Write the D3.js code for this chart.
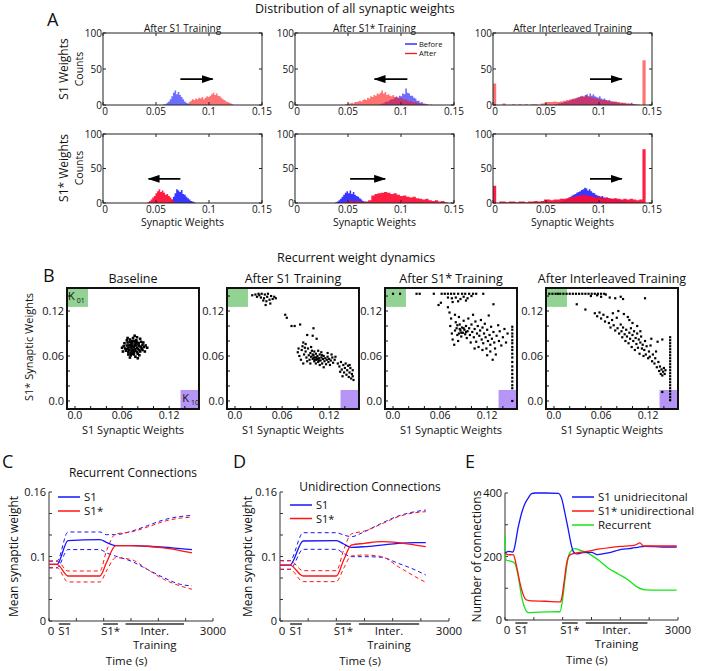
<!DOCTYPE html>
<html><head><meta charset="utf-8">
<script src="https://cdn.jsdelivr.net/npm/d3@7"></script>
<style>body{margin:0;background:#fff}svg{font-family:"Open Sans",sans-serif}</style>
</head><body><svg id="c" width="708" height="671"></svg>
<script>
// ================= DATA =================
// ---- Panel A: histogram counts (bin start, bin width, counts) ----
const BIN_FINE = 0.0015, BIN_COARSE = 0.003;
const aS1_S1_before = [1,1,3,5,8,12,17,20,15,18,14,11,8,5,3,2,1];
const aS1_S1_after = [4,6,8,7,9,8,10,9,11,8,10,12,11,13,15,17,14,16,13,12,10,8,7,5,4,3,2,1];
const aS1_S1s_before = [1,2,2,4,5,5,7,8,8,10,11,10,13,12,16,15,23,17,16,13,13,10,9,6,6,3,4,2,1,1];
const aS1_S1s_after = [1,1,2,2,3,2,4,4,5,6,5,7,8,7,10,9,12,11,14,13,16,15,17,20,16,18,14,15,13,12,14,11,12,10,9,10,8,7,8,6,5,6,4,3,4,3,2,2,1,1,2,1,1,0,1];
const aS1_Int_before = [1,1,2,2,3,3,4,5,5,6,7,8,8,9,10,11,12,13,11,14,15,12,16,13,15,12,11,10,12,9,8,9,7,6,7,5,5,4,4,3,3,2,3,2,2,1,2,1,3,1,1];
const aS1_Int_after = [30,0,0,2,0,0,1,0,1,0,1,0,1,1,0,2,3,4,4,5,4,5,6,7,8,9,10,11,12,13,11,10,9,8,7,7,6,5,5,4,3,3,2,2,1,1,0,62];
const aS1s_S1_before = [2,5,9,14,20,18,16,19,13,12,9,7,5,3,2,1];
const aS1s_S1_after = [1,3,5,8,10,14,17,20,16,18,15,12,13,10,8,5,2];
const aS1s_S1s_before = [1,2,4,6,9,12,15,17,14,18,13,16,12,10,9,7,5,3,2];
const aS1s_S1s_after = [1,2,3,2,3,2,1,2,4,11,13,14,15,16,15,13,14,12,10,11,9,8,9,7,6,5,6,4,3,4,2,3,1];
const aS1s_Int_before = [1,2,3,4,5,6,8,9,11,12,13,15,16,17,19,20,22,21,18,20,17,15,14,12,11,10,9,10,8,7,8,7,6,6,5,6,5,4,5,4,3,4,3,2,3,2,2,1,1];
const aS1s_Int_after = [25,0,2,2,1,2,2,1,2,2,1,2,2,3,2,3,5,5,4,5,5,6,6,7,8,9,10,11,12,11,10,9,8,9,7,8,7,6,7,6,5,6,5,6,5,4,5,78];
// arrows: [from weight, to weight, count level]
const arrowsA = [[0.073,0.1035,36],[0.106,0.075,36],[0.0915,0.1215,36],[0.073,0.043,35],[0.052,0.085,35],[0.0915,0.1215,35]];
const histTitles = ["After S1 Training","After S1* Training","After Interleaved Training"];
const histXTicks = [0,0.05,0.1,0.15];
const histYTicks = [0,50,100];

// ---- Panel B: scatter points [S1 weight, S1* weight] ----
const scatterTitles = ["Baseline","After S1 Training","After S1* Training","After Interleaved Training"];
const ptsBaseline = [[0.075,0.072],[0.072,0.070],[0.078,0.074],[0.070,0.075],[0.080,0.069],[0.074,0.066],[0.068,0.071],[0.077,0.078],[0.082,0.073],[0.071,0.064],
[0.066,0.074],[0.085,0.070],[0.079,0.065],[0.073,0.080],[0.069,0.068],[0.076,0.069],[0.081,0.077],[0.067,0.078],[0.083,0.066],[0.072,0.076],
[0.064,0.070],[0.086,0.075],[0.075,0.062],[0.070,0.082],[0.078,0.081],[0.088,0.072],[0.062,0.073],[0.074,0.084],[0.080,0.063],[0.068,0.065],
[0.084,0.079],[0.065,0.067],[0.077,0.059],[0.071,0.061],[0.086,0.068],[0.063,0.077],[0.090,0.074],[0.079,0.085],[0.066,0.081],[0.082,0.061],
[0.073,0.073],[0.076,0.075],[0.074,0.068],[0.079,0.071],[0.071,0.072],[0.077,0.067],[0.069,0.074],[0.081,0.075],[0.073,0.077],[0.075,0.065],
[0.060,0.071],[0.092,0.071],[0.087,0.078],[0.061,0.066],[0.089,0.066],[0.070,0.058],[0.083,0.083],[0.067,0.084],[0.076,0.087],[0.080,0.057],
[0.072,0.067],[0.078,0.077],[0.070,0.079],[0.084,0.072],[0.066,0.069],[0.075,0.080],[0.082,0.068],[0.073,0.063],[0.079,0.079],[0.068,0.062]];
const ptsAfterS1 = [[0.022,0.141],[0.026,0.142],[0.030,0.143],[0.034,0.143],[0.038,0.142],[0.042,0.143],[0.028,0.139],[0.033,0.138],[0.037,0.137],[0.041,0.139],
[0.046,0.140],[0.050,0.139],[0.036,0.134],[0.040,0.133],[0.044,0.135],[0.048,0.136],[0.039,0.128],[0.045,0.130],[0.052,0.137],[0.031,0.141],
[0.064,0.115],[0.066,0.111],[0.072,0.100],[0.076,0.100],[0.083,0.102],[0.100,0.097],[0.099,0.087],[0.092,0.088],[0.104,0.083],
[0.080,0.065],[0.082,0.060],[0.085,0.068],[0.086,0.073],[0.088,0.062],[0.090,0.066],[0.091,0.058],[0.093,0.070],[0.094,0.061],[0.095,0.055],
[0.096,0.064],[0.097,0.059],[0.098,0.067],[0.099,0.056],[0.100,0.061],[0.101,0.053],[0.102,0.058],[0.103,0.063],[0.104,0.055],[0.105,0.060],
[0.106,0.052],[0.107,0.057],[0.108,0.062],[0.109,0.054],[0.110,0.058],[0.111,0.050],[0.112,0.056],[0.113,0.060],[0.114,0.053],[0.115,0.057],
[0.116,0.049],[0.117,0.055],[0.118,0.059],[0.119,0.052],[0.120,0.056],[0.121,0.048],[0.122,0.054],[0.124,0.058],[0.125,0.051],[0.127,0.055],
[0.084,0.055],[0.087,0.050],[0.089,0.071],[0.092,0.053],[0.097,0.072],[0.101,0.066],[0.106,0.067],[0.108,0.048],[0.113,0.045],[0.118,0.064],
[0.123,0.062],[0.128,0.059],[0.103,0.050],[0.096,0.050],[0.110,0.065],[0.090,0.076],[0.087,0.078],[0.081,0.070],[0.099,0.062],[0.104,0.058],
[0.107,0.054],[0.102,0.055],[0.111,0.061],[0.100,0.058],[0.105,0.056],
[0.131,0.050],[0.133,0.046],[0.135,0.052],[0.136,0.042],[0.138,0.048],[0.139,0.038],[0.140,0.044],[0.141,0.050],[0.142,0.035],[0.143,0.041],
[0.144,0.047],[0.145,0.032],[0.146,0.038],[0.147,0.044],[0.148,0.030],[0.149,0.036],[0.150,0.041],[0.151,0.028],[0.137,0.033],[0.134,0.039],[0.146,0.048],[0.150,0.033]];
const ptsAfterS1s = [[0.000,0.143],[0.009,0.143],
[0.030,0.143],[0.034,0.143],[0.052,0.143],[0.062,0.143],[0.066,0.143],[0.070,0.143],[0.074,0.143],[0.078,0.143],[0.083,0.143],[0.088,0.143],[0.092,0.143],[0.097,0.143],[0.102,0.143],[0.106,0.143],[0.115,0.143],
[0.070,0.138],[0.075,0.137],[0.080,0.138],[0.086,0.136],[0.090,0.139],[0.095,0.137],[0.100,0.140],[0.076,0.132],[0.083,0.133],[0.093,0.134],
[0.058,0.128],[0.061,0.131],[0.128,0.129],[0.070,0.125],
[0.072,0.118],[0.074,0.110],[0.073,0.100],[0.075,0.090],[0.076,0.082],[0.078,0.075],[0.079,0.115],[0.080,0.105],[0.081,0.097],[0.082,0.088],
[0.083,0.080],[0.084,0.112],[0.085,0.102],[0.086,0.094],[0.087,0.086],[0.088,0.098],[0.089,0.091],[0.090,0.107],[0.091,0.095],[0.092,0.089],
[0.093,0.100],[0.094,0.084],[0.095,0.093],[0.096,0.110],[0.097,0.097],[0.098,0.088],[0.099,0.078],[0.100,0.102],[0.101,0.092],[0.102,0.115],
[0.103,0.085],[0.104,0.096],[0.105,0.106],[0.106,0.079],[0.107,0.090],[0.108,0.100],[0.109,0.072],[0.110,0.087],[0.111,0.094],[0.112,0.108],
[0.113,0.082],[0.114,0.098],[0.115,0.077],[0.116,0.090],[0.117,0.103],[0.118,0.085],[0.119,0.070],[0.120,0.095],[0.121,0.080],[0.122,0.114],
[0.123,0.088],[0.124,0.075],[0.125,0.099],[0.126,0.083],[0.128,0.092],[0.129,0.078],[0.130,0.070],[0.132,0.087],[0.134,0.101],[0.135,0.080],
[0.136,0.093],[0.138,0.074],[0.140,0.085],[0.142,0.096],[0.144,0.078],[0.146,0.090],
[0.085,0.096],[0.090,0.097],[0.087,0.091],[0.093,0.092],[0.084,0.090],[0.082,0.101],[0.079,0.094],
[0.120,0.061],[0.127,0.055],[0.131,0.062],[0.124,0.066],[0.114,0.068],[0.104,0.070],
[0.152,0.099],[0.152,0.095],[0.152,0.090],[0.152,0.086],[0.152,0.081],[0.152,0.077],[0.152,0.072],[0.152,0.068],[0.152,0.063],[0.152,0.058],
[0.152,0.052],[0.152,0.046],[0.152,0.041],[0.152,0.036],[0.152,0.031],[0.152,0.026],[0.152,0.021],[0.152,0.017],[0.152,0.000]];
const ptsAfterInt = [[-0.006,0.143],[-0.002,0.143],[0.002,0.143],[0.005,0.143],[0.008,0.143],[0.012,0.143],[0.016,0.143],[0.020,0.143],[0.024,0.143],[0.028,0.143],
[0.032,0.143],[0.036,0.143],[0.040,0.143],[0.044,0.143],[0.048,0.143],[0.052,0.143],[0.056,0.143],[0.060,0.143],[0.064,0.143],
[0.047,0.140],[0.055,0.141],[0.060,0.139],[0.066,0.142],[0.071,0.138],[0.078,0.137],[0.085,0.139],[0.088,0.136],[0.116,0.137],[0.029,0.129],[0.040,0.122],
[0.052,0.117],[0.055,0.113],[0.058,0.118],[0.060,0.110],[0.063,0.115],[0.065,0.106],[0.068,0.112],[0.070,0.104],[0.072,0.098],[0.074,0.108],
[0.076,0.101],[0.078,0.094],[0.080,0.111],[0.081,0.097],[0.083,0.090],[0.085,0.102],[0.086,0.093],[0.087,0.085],[0.088,0.098],[0.090,0.089],
[0.091,0.080],[0.092,0.095],[0.093,0.086],[0.094,0.112],[0.095,0.077],[0.096,0.091],[0.097,0.083],[0.098,0.097],[0.099,0.072],[0.100,0.088],
[0.101,0.080],[0.102,0.093],[0.103,0.068],[0.104,0.084],[0.105,0.076],[0.106,0.090],[0.107,0.071],[0.108,0.082],[0.109,0.063],[0.110,0.078],
[0.111,0.086],[0.112,0.070],[0.113,0.075],[0.114,0.060],[0.115,0.068],[0.116,0.080],[0.117,0.062],[0.118,0.073],[0.120,0.057],[0.121,0.066],
[0.122,0.059],[0.123,0.074],[0.125,0.053],[0.126,0.062],[0.128,0.050],[0.129,0.057],[0.130,0.066],[0.131,0.045],[0.133,0.052],[0.134,0.040],
[0.135,0.046],[0.136,0.036],[0.137,0.042],[0.138,0.034],[0.139,0.039],[0.140,0.044],[0.141,0.036],[0.142,0.041],[0.138,0.082],[0.132,0.079],
[0.124,0.083],[0.096,0.108],[0.089,0.116],[0.082,0.120],[0.075,0.117],[0.106,0.100],[0.100,0.104],[0.110,0.093],
[0.148,0.085],[0.148,0.081],[0.148,0.077],[0.148,0.073],[0.148,0.069],[0.148,0.065],[0.148,0.061],[0.148,0.057],[0.148,0.053],[0.148,0.049],
[0.148,0.045],[0.148,0.041],[0.148,0.037],[0.148,0.033],[0.148,0.029],[0.148,0.025],[0.148,0.021],[0.148,0.017],[0.148,0.013],[0.148,0.009],[0.148,0.005],[0.148,0.001],
[0.138,0.012]];
const scatterTicks = [0,0.02,0.04,0.06,0.08,0.10,0.12,0.14];
const scatterLabels = [[0,"0.0"],[0.06,"0.06"],[0.12,"0.12"]];

// ---- Panel C: recurrent connections, mean weight (solid) and +/- spread (dashed) ----
const tC = [0,146,348,933,1050,1220,1500,1800,2100,2400,2616];
const cS1 = [0.0702,0.0702,0.0997,0.1009,0.0976,0.0935,0.0935,0.0927,0.0915,0.0898,0.0886];
const cS1s = [0.0702,0.0702,0.0558,0.0558,0.0722,0.0935,0.0935,0.0927,0.0907,0.0874,0.0845];
const cS1Hi = [0.0743,0.0743,0.1104,0.1104,0.1071,0.1071,0.1112,0.1182,0.1255,0.1296,0.1309];
const cS1Lo = [0.0660,0.0660,0.0886,0.0886,0.0845,0.0804,0.0743,0.0640,0.0537,0.0455,0.0435];
const cS1sHi = [0.0743,0.0743,0.0620,0.0620,0.0866,0.1079,0.1104,0.1165,0.1235,0.1276,0.1288];
const cS1sLo = [0.0660,0.0660,0.0484,0.0484,0.0620,0.0784,0.0763,0.0640,0.0517,0.0435,0.0394];
// ---- Panel D: unidirectional connections ----
const tD = [0,176,412,1000,1130,1265,1500,1800,2100,2400,2588];
const dS1 = [0.0694,0.0694,0.0992,0.0996,0.0955,0.0914,0.0922,0.0942,0.0963,0.0971,0.0971];
const dS1s = [0.0694,0.0694,0.0558,0.0558,0.0756,0.0942,0.0963,0.0984,0.0971,0.0942,0.0922];
const dS1Hi = [0.0748,0.0748,0.1095,0.1095,0.1066,0.1046,0.1108,0.1211,0.1302,0.1356,0.1376];
const dS1Lo = [0.0641,0.0641,0.0889,0.0889,0.0839,0.0798,0.0798,0.0790,0.0715,0.0633,0.0570];
const dS1sHi = [0.0748,0.0748,0.0624,0.0624,0.0880,0.1079,0.1116,0.1203,0.1294,0.1343,0.1356];
const dS1sLo = [0.0641,0.0641,0.0488,0.0488,0.0653,0.0806,0.0818,0.0800,0.0674,0.0550,0.0479];
const meanYTicks = [0,0.16/6,0.16*2/6,0.08,0.16*4/6,0.16*5/6,0.16];
const meanYLabels = [[0,"0"],[0.08,"0.1"],[0.16,"0.16"]];
// ---- Panel E: number of connections ----
const tE_S1 = [0,60,130,145,231,289,347,405,462,520,700,925,982,1040,1098,1144,1185,1243,1350,1500,1600,1734,1850,1965,2100,2197,2300,2428,2600,2800,2977];
const eS1 = [210,216,214,216,294,337,367,385,398,400,400,399,383,336,284,241,215,208,212,213,206,210,214,220,224,226,229,232,231,230,230];
const tE_S1s = [0,60,120,145,202,260,318,376,462,700,954,982,1022,1069,1127,1214,1387,1618,1850,2081,2255,2341,2399,2600,2977];
const eS1s = [210,205,206,205,168,116,79,63,60,59,57,67,116,178,205,210,215,223,229,233,236,243,233,233,233];
const tE_Rec = [0,17,121,173,231,289,347,405,600,954,994,1040,1098,1156,1214,1300,1445,1618,1792,1965,2139,2284,2428,2700,2977];
const eRec = [268,189,184,178,136,73,36,23,25,26,58,126,199,220,225,220,210,189,163,145,126,105,95,94,94];
const countYTicks = [0,100,200,300,400];
const countYLabels = [[0,"0"],[200,"200"],[400,"400"]];
const timeTicks = [0,500,1000,1500,2000,2500,3000];
const trainingPeriods = [["S1",180,390],["S1*",990,1260],["Inter.",1400,2470]];

// ================= DRAWING =================
const svg = d3.select("#c");
const BLUE = "#1414ff", RED = "#ff1414", GREEN = "#14e614";
const defs = svg.append("defs");
defs.append("marker").attr("id","ah").attr("markerUnits","userSpaceOnUse")
  .attr("viewBox","0 0 12 8").attr("markerWidth",12).attr("markerHeight",8)
  .attr("refX",11).attr("refY",4).attr("orient","auto")
  .append("path").attr("d","M0,0 L12,4 L0,8 z").attr("fill","#000");

function txt(g, x, y, s, size, anchor, extra) {
  const t = g.append("text").attr("x",x).attr("y",y).attr("font-size",size)
    .attr("text-anchor",anchor||"start").attr("fill","#111").text(s);
  if (extra) extra(t);
  return t;
}
function vtxt(g, x, y, s, size) {
  return g.append("text").attr("transform",`translate(${x},${y}) rotate(-90)`)
    .attr("font-size",size).attr("text-anchor","middle").attr("fill","#111").text(s);
}

// ---- Panel A ----
const gA = svg.append("g");
txt(gA, 47, 26, "A", 18);
txt(gA, 255, 13, "Distribution of all synaptic weights", 12.5);
const histSpecs = [
  [[0.057,BIN_FINE,aS1_S1_before],[0.081,BIN_FINE,aS1_S1_after]],
  [[0.080,BIN_FINE,aS1_S1s_before],[0.047,BIN_FINE,aS1_S1s_after]],
  [[0.058,BIN_FINE,aS1_Int_before],[0,BIN_COARSE,aS1_Int_after]],
  [[0.063,BIN_FINE,aS1s_S1_before],[0.042,BIN_FINE,aS1s_S1_after]],
  [[0.038,BIN_FINE,aS1s_S1s_before],[0.045,BIN_COARSE,aS1s_S1s_after]],
  [[0.062,BIN_FINE,aS1s_Int_before],[0,BIN_COARSE,aS1s_Int_after]]
];
const histLeft = [103,295,493], histW = 159;
const histRows = [[33,72],[134,69]];
histSpecs.forEach((spec, k) => {
  const row = Math.floor(k/3), col = k%3;
  const x0 = histLeft[col], y0 = histRows[row][0], h = histRows[row][1];
  const x = d3.scaleLinear().domain([0,0.15]).range([x0, x0+histW]);
  const y = d3.scaleLinear().domain([0,100]).range([y0+h, y0]);
  const g = gA.append("g");
  const cols = row === 0 ? ["rgba(20,20,255,0.62)","rgba(255,20,20,0.6)"] : ["rgba(20,20,255,0.85)","rgba(255,10,50,0.92)"];
  spec.forEach(([start, bw, counts], j) => {
    const pts = counts.map((c,i)=>[start+i*bw, c]).concat([[start+counts.length*bw, counts[counts.length-1]]]);
    const area = d3.area().curve(d3.curveStepAfter).x(d=>x(d[0])).y0(y(0)).y1(d=>y(d[1]));
    g.append("path").attr("d", area(pts)).attr("fill", cols[j]);
  });
  g.append("rect").attr("x",x0).attr("y",y0).attr("width",histW).attr("height",h)
    .attr("fill","none").attr("stroke","#222").attr("stroke-width",1);
  histXTicks.forEach(v => {
    g.append("line").attr("x1",x(v)).attr("x2",x(v)).attr("y1",y0+h).attr("y2",y0+h-3).attr("stroke","#222");
    g.append("line").attr("x1",x(v)).attr("x2",x(v)).attr("y1",y0).attr("y2",y0+3).attr("stroke","#222");
    txt(g, x(v)+(v===0?2:0), y0+h+10, v===0?"0":String(v), 10, "middle");
  });
  histYTicks.forEach(v => {
    g.append("line").attr("x1",x0).attr("x2",x0+3).attr("y1",y(v)).attr("y2",y(v)).attr("stroke","#222");
    g.append("line").attr("x1",x0+histW).attr("x2",x0+histW-3).attr("y1",y(v)).attr("y2",y(v)).attr("stroke","#222");
    txt(g, x0-1, y(v)+3.5, String(v), 10, "end");
  });
  const ar = arrowsA[k];
  g.append("line").attr("x1",x(ar[0])).attr("x2",x(ar[1])).attr("y1",y(ar[2])).attr("y2",y(ar[2]))
    .attr("stroke","#000").attr("stroke-width",1.8).attr("marker-end","url(#ah)");
  if (row === 0) txt(g, x0+histW/2, y0-1, histTitles[col], 10, "middle");
  else txt(g, x0+histW/2, y0+h+23, "Synaptic Weights", 10.5, "middle");
  if (k === 1) {
    [["Before",BLUE,44],["After",RED,53.5]].forEach(([s,c,yy]) => {
      g.append("line").attr("x1",405).attr("x2",417).attr("y1",yy).attr("y2",yy).attr("stroke",c).attr("stroke-width",1.3);
      txt(g, 419, yy+2.6, s, 7.5);
    });
  }
});
vtxt(gA, 68, 69, "S1 Weights", 12);
vtxt(gA, 83, 69, "Counts", 10.5);
vtxt(gA, 68, 168, "S1* Weights", 12);
vtxt(gA, 83, 168, "Counts", 10.5);

// ---- Panel B ----
const gB = svg.append("g");
txt(gB, 43, 282, "B", 18);
txt(gB, 277, 262, "Recurrent weight dynamics", 12.5);
const scatterLeft = [67,227,385,546], sW = 132, sTop = 288, sBot = 409;
const scatterSets = [ptsBaseline, ptsAfterS1, ptsAfterS1s, ptsAfterInt];
scatterSets.forEach((pts, k) => {
  const x0 = scatterLeft[k];
  const x = d3.scaleLinear().domain([-0.0102,0.158]).range([x0, x0+sW]);
  const y = d3.scaleLinear().domain([-0.0107,0.1507]).range([sBot, sTop]);
  const g = gB.append("g");
  g.append("rect").attr("x",x(-0.0102)).attr("y",y(0.1507)).attr("width",x(0.0165)-x(-0.0102))
    .attr("height",y(0.1255)-y(0.1507)).attr("fill","#92d292");
  g.append("rect").attr("x",x(0.1345)).attr("y",y(0.0147)).attr("width",x(0.158)-x(0.1345))
    .attr("height",y(-0.0107)-y(0.0147)).attr("fill","#b596f6");
  const s = k === 0 ? 2.6 : 2.2;
  g.append("g").selectAll("rect").data(pts).join("rect")
    .attr("x",d=>x(d[0])-s/2).attr("y",d=>y(d[1])-s/2).attr("width",s).attr("height",s).attr("fill","#000");
  g.append("rect").attr("x",x0).attr("y",sTop).attr("width",sW).attr("height",sBot-sTop)
    .attr("fill","none").attr("stroke","#111").attr("stroke-width",2);
  scatterTicks.forEach(v => {
    g.append("line").attr("x1",x0).attr("x2",x0+3).attr("y1",y(v)).attr("y2",y(v)).attr("stroke","#111");
    g.append("line").attr("x1",x(v)).attr("x2",x(v)).attr("y1",sBot).attr("y2",sBot-3).attr("stroke","#111");
  });
  scatterLabels.forEach(([v,s2]) => {
    txt(g, x0-3, y(v)+4, s2, 11, "end");
    txt(g, x(v), sBot+10, s2, 10.5, "middle");
  });
  txt(g, x0+sW/2, 283, scatterTitles[k], 12.5, "middle");
  txt(g, x0+sW/2, 433.5, "S1 Synaptic Weights", 11, "middle");
  if (k === 0) {
    const k1 = txt(g, x0+1, 300, "K", 11);
    k1.append("tspan").attr("font-size",7).attr("dx",2).attr("dy",3).text("01");
    const k2 = txt(g, x(0.1365), 402, "K", 11);
    k2.append("tspan").attr("font-size",7).attr("dx",2).attr("dy",3).text("10");
  }
});
vtxt(gB, 33, 347, "S1* Synaptic Weights", 11);

// ---- Line panels C, D, E ----
function linePanel(cfg) {
  const g = svg.append("g");
  const x = d3.scaleLinear().domain([0,3000]).range([cfg.x0, cfg.x1]);
  const y = d3.scaleLinear().domain(cfg.yDomain).range([cfg.yB, cfg.yT]);
  g.append("line").attr("x1",cfg.x0).attr("x2",cfg.x0).attr("y1",cfg.yT).attr("y2",cfg.yB).attr("stroke","#333");
  g.append("line").attr("x1",cfg.x0).attr("x2",cfg.x1).attr("y1",cfg.yB).attr("y2",cfg.yB).attr("stroke","#333");
  cfg.yTicks.forEach(v => g.append("line").attr("x1",cfg.x0).attr("x2",cfg.x0+3).attr("y1",y(v)).attr("y2",y(v)).attr("stroke","#333"));
  timeTicks.forEach(v => g.append("line").attr("x1",x(v)).attr("x2",x(v)).attr("y1",cfg.yB).attr("y2",cfg.yB-3).attr("stroke","#333"));
  cfg.yLabels.forEach(([v,s]) => txt(g, cfg.x0-3, y(v)+4, s, 11, "end"));
  txt(g, x(0)+2, cfg.yB+14, "0", 11.5, "middle");
  txt(g, x(3000), cfg.yB+14, "3000", 11.5, "middle");
  cfg.series.forEach(s => {
    const line = d3.line().curve(d3.curveMonotoneX).x((d,i)=>x(s.t[i])).y(d=>y(d));
    g.append("path").attr("d", line(s.v)).attr("fill","none").attr("stroke",s.c)
      .attr("stroke-width", s.dash ? 1 : 1.3).attr("stroke-dasharray", s.dash ? "4,3" : null);
  });
  trainingPeriods.forEach(([lab,a,b]) => {
    g.append("line").attr("x1",x(a)).attr("x2",x(b)).attr("y1",cfg.yB+3).attr("y2",cfg.yB+3).attr("stroke","#333").attr("stroke-width",1.5);
    txt(g, (x(a)+x(b))/2, cfg.yB+14, lab, 11.5, "middle");
  });
  txt(g, (x(1400)+x(2470))/2, cfg.yB+28, "Training", 11.5, "middle");
  txt(g, x(1420), cfg.yB+44, "Time (s)", 11.5, "middle");
  cfg.legend.forEach(([s,c],i) => {
    const ly = cfg.legY + i*cfg.legDy;
    g.append("line").attr("x1",cfg.legX).attr("x2",cfg.legX+cfg.legLen).attr("y1",ly).attr("y2",ly).attr("stroke",c).attr("stroke-width",1.5);
    txt(g, cfg.legX+cfg.legLen+4, ly+4, s, cfg.legSize);
  });
  vtxt(g, cfg.ylabX, (cfg.yT+cfg.yB)/2, cfg.ylab, 12);
  txt(g, cfg.letterX, 468, cfg.letter, 18);
  if (cfg.title) txt(g, cfg.title[1], cfg.title[2], cfg.title[0], 12, "middle");
}

linePanel({x0:49, x1:213, yT:492, yB:621, yDomain:[0,0.16], yTicks:meanYTicks, yLabels:meanYLabels,
  series:[{t:tC,v:cS1Hi,c:BLUE,dash:1},{t:tC,v:cS1Lo,c:BLUE,dash:1},{t:tC,v:cS1sHi,c:RED,dash:1},{t:tC,v:cS1sLo,c:RED,dash:1},
          {t:tC,v:cS1,c:BLUE},{t:tC,v:cS1s,c:RED}],
  legend:[["S1",BLUE],["S1*",RED]], legX:58, legLen:22, legY:497, legDy:14, legSize:11.5,
  ylab:"Mean synaptic weight", ylabX:18, letter:"C", letterX:2, title:["Recurrent Connections",133,477]});
linePanel({x0:280, x1:449, yT:492, yB:621, yDomain:[0,0.16], yTicks:meanYTicks, yLabels:meanYLabels,
  series:[{t:tD,v:dS1Hi,c:BLUE,dash:1},{t:tD,v:dS1Lo,c:BLUE,dash:1},{t:tD,v:dS1sHi,c:RED,dash:1},{t:tD,v:dS1sLo,c:RED,dash:1},
          {t:tD,v:dS1,c:BLUE},{t:tD,v:dS1s,c:RED}],
  legend:[["S1",BLUE],["S1*",RED]], legX:290, legLen:22, legY:505, legDy:13.5, legSize:11,
  ylab:"Mean synaptic weight", ylabX:252, letter:"D", letterX:233, title:["Unidirection Connections",370,491]});
linePanel({x0:505, x1:678, yT:493, yB:620, yDomain:[0,400], yTicks:countYTicks, yLabels:countYLabels,
  series:[{t:tE_Rec,v:eRec,c:GREEN},{t:tE_S1,v:eS1,c:BLUE},{t:tE_S1s,v:eS1s,c:RED}],
  legend:[["S1 unidriecitonal",BLUE],["S1* unidirectional",RED],["Recurrent",GREEN]], legX:572, legLen:22, legY:497, legDy:14, legSize:11.5,
  ylab:"Number of connections", ylabX:481, letter:"E", letterX:465});
</script></body></html>
